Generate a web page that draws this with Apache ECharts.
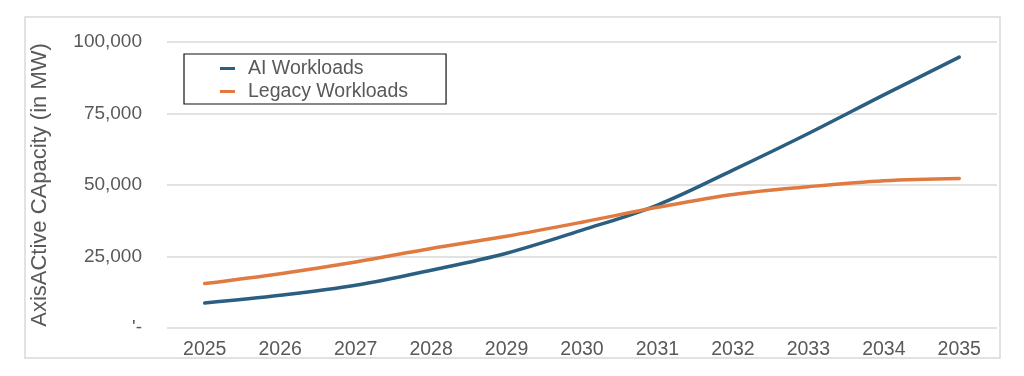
<!DOCTYPE html>
<html>
<head>
<meta charset="utf-8">
<script src="https://cdn.jsdelivr.net/npm/echarts@6/dist/echarts.min.js"></script>
<style>
  html, body { margin: 0; padding: 0; background: #fff; }
  #chart { width: 1024px; height: 376px; }
</style>
</head>
<body>
<div id="chart"></div>
<script>
var years = ['2025', '2026', '2027', '2028', '2029', '2030', '2031', '2032', '2033', '2034', '2035'];
var aiWorkloads = [8750, 11450, 14950, 20200, 26150, 34200, 43000, 55200, 68000, 81500, 94700];
var legacyWorkloads = [15550, 19000, 23100, 27800, 32100, 37000, 42200, 46700, 49400, 51500, 52300];
var yTicks = [0, 25000, 50000, 75000, 100000];

var FONT = '"Liberation Sans", Arial, Helvetica, sans-serif';
var GREY = '#595959';

var myChart = echarts.init(document.getElementById('chart'));

function fmt(v) {
    if (v === 0) return "'-";
    return v.toString().replace(/\B(?=(\d{3})+(?!\d))/g, ',');
}

var option = {
    backgroundColor: '#fff',
    animation: false,
    textStyle: { fontFamily: FONT },
    graphic: [{
        type: 'rect',
        shape: { x: 25, y: 17, width: 975, height: 341 },
        style: { fill: 'none', stroke: '#d9d9d9', lineWidth: 1.5 },
        silent: true
    }],
    legend: {
        orient: 'vertical',
        left: 184,
        top: 54,
        padding: [4, 38, 2, 36],
        itemGap: 2,
        itemWidth: 15,
        itemHeight: 3,
        icon: 'rect',
        borderColor: '#111',
        borderWidth: 1.2,
        borderRadius: 0,
        textStyle: { color: GREY, fontSize: 19.5, fontFamily: FONT, lineHeight: 21, padding: [0, 0, 0, 8] },
        data: ['AI Workloads', 'Legacy Workloads']
    },
    grid: { left: 167, right: 27, top: 42, bottom: 48, containLabel: false },
    xAxis: {
        type: 'category',
        data: years,
        boundaryGap: true,
        axisLine: { show: false },
        axisTick: { show: false },
        axisLabel: { color: GREY, fontSize: 19.5, fontFamily: FONT, margin: 12 }
    },
    yAxis: {
        type: 'value',
        min: yTicks[0],
        max: yTicks[yTicks.length - 1],
        interval: 25000,
        name: 'AxisACtive CApacity (in MW)',
        nameLocation: 'middle',
        nameGap: 116,
        nameTextStyle: { color: GREY, fontSize: 22, fontFamily: FONT },
        axisLine: { show: false },
        axisTick: { show: false },
        splitLine: { lineStyle: { color: '#d9d9d9', width: 1.5 } },
        axisLabel: { color: GREY, fontSize: 19, fontFamily: FONT, margin: 25, formatter: fmt }
    },
    series: [
        {
            name: 'AI Workloads',
            type: 'line',
            data: aiWorkloads,
            smooth: 0.35,
            showSymbol: false,
            itemStyle: { color: '#2b5f82' },
            lineStyle: { color: '#2b5f82', width: 3.5, cap: 'round' }
        },
        {
            name: 'Legacy Workloads',
            type: 'line',
            data: legacyWorkloads,
            smooth: 0.35,
            showSymbol: false,
            itemStyle: { color: '#e07a40' },
            lineStyle: { color: '#e07a40', width: 3.5, cap: 'round' }
        }
    ]
};
myChart.setOption(option);
</script>
</body>
</html>
